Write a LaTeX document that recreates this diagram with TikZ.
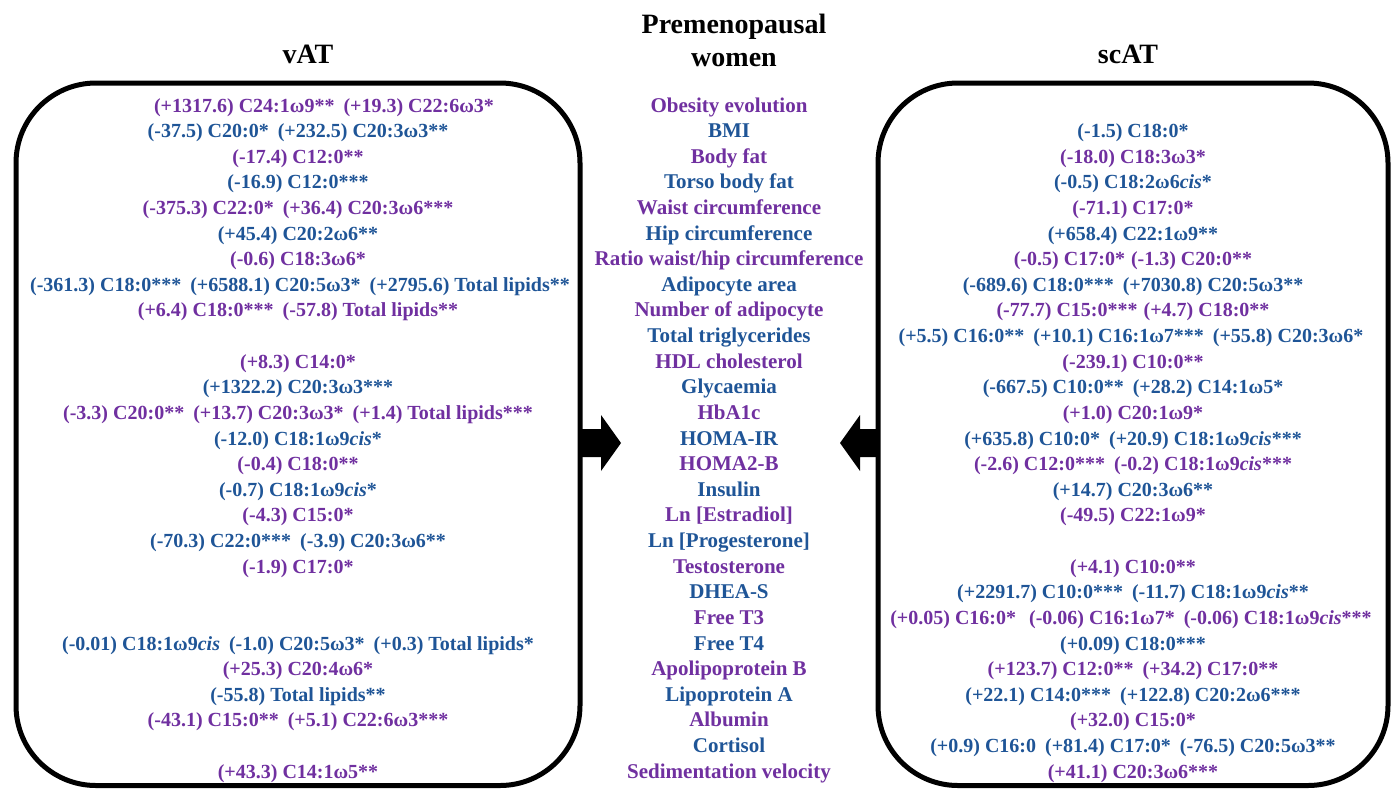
\documentclass[tikz,border=0pt]{standalone}
\usepackage{fontspec}
\setmainfont{Liberation Serif}
\definecolor{pur}{HTML}{7030A0}
\definecolor{blu}{HTML}{1F5597}
\tikzset{
  mid/.style={anchor=base, inner sep=0pt, font=\fontsize{21}{25}\selectfont\bfseries},
  lbl/.style={anchor=base, inner sep=0pt, font=\fontsize{20}{25}\selectfont\bfseries},
  head/.style={anchor=base, inner sep=0pt, font=\fontsize{28}{34}\selectfont\bfseries, text=black},
  pu/.style={text=pur}, bl/.style={text=blu},
  frame/.style={line width=5pt, rounded corners=80pt},
  blockarrow/.style={fill=black, draw=none},
}
\newcommand{\gp}{\hspace{9pt}}
\newcommand{\cs}{\textit{cis}}
\begin{document}
\begin{tikzpicture}[x=1pt, y=-1pt]
\useasboundingbox (0,0) rectangle (1392,788);
\fill[white] (0,0) rectangle (1392,788);
% headings
\node[head] (t1) at (734,33) {Premenopausal};
\node[head] (t2) at (734,66) {women};
\node[head] (hv) at (308,63) {vAT};
\node[head] (hs) at (1128,63) {scAT};
% frames
\draw[frame] (16,83) rectangle (580,785.5);
\draw[frame] (878,83) rectangle (1388,785.5);
% block arrows
\fill[blockarrow] (579,429) -- (601,429) -- (601,415) -- (621,443) -- (601,471) -- (601,457) -- (579,457) -- cycle;
\fill[blockarrow] (879,429) -- (860,429) -- (860,415) -- (840,443) -- (860,471) -- (860,457) -- (879,457) -- cycle;
% middle column
\node[mid,pu] (m1) at (729,{112+0*25.62}) {Obesity evolution};
\node[mid,bl] (m2) at (729,{112+1*25.62}) {BMI};
\node[mid,pu] (m3) at (729,{112+2*25.62}) {Body fat};
\node[mid,bl] (m4) at (729,{112+3*25.62}) {Torso body fat};
\node[mid,pu] (m5) at (729,{112+4*25.62}) {Waist circumference};
\node[mid,bl] (m6) at (729,{112+5*25.62}) {Hip circumference};
\node[mid,pu] (m7) at (729,{112+6*25.62}) {Ratio waist/hip circumference};
\node[mid,bl] (m8) at (729,{112+7*25.62}) {Adipocyte area};
\node[mid,pu] (m9) at (729,{112+8*25.62}) {Number of adipocyte};
\node[mid,bl] (m10) at (729,{112+9*25.62}) {Total triglycerides};
\node[mid,pu] (m11) at (729,{112+10*25.62}) {HDL cholesterol};
\node[mid,bl] (m12) at (729,{112+11*25.62}) {Glycaemia};
\node[mid,pu] (m13) at (729,{112+12*25.62}) {HbA1c};
\node[mid,bl] (m14) at (729,{112+13*25.62}) {HOMA-IR};
\node[mid,pu] (m15) at (729,{112+14*25.62}) {HOMA2-B};
\node[mid,bl] (m16) at (729,{112+15*25.62}) {Insulin};
\node[mid,pu] (m17) at (729,{112+16*25.62}) {Ln [Estradiol]};
\node[mid,bl] (m18) at (729,{112+17*25.62}) {Ln [Progesterone]};
\node[mid,pu] (m19) at (729,{112+18*25.62}) {Testosterone};
\node[mid,bl] (m20) at (729,{112+19*25.62}) {DHEA-S};
\node[mid,pu] (m21) at (729,{112+20*25.62}) {Free T3};
\node[mid,bl] (m22) at (729,{112+21*25.62}) {Free T4};
\node[mid,pu] (m23) at (729,{112+22*25.62}) {Apolipoprotein B};
\node[mid,bl] (m24) at (729,{112+23*25.62}) {Lipoprotein A};
\node[mid,pu] (m25) at (729,{112+24*25.62}) {Albumin};
\node[mid,bl] (m26) at (729,{112+25*25.62}) {Cortisol};
\node[mid,pu] (m27) at (729,{112+26*25.62}) {Sedimentation velocity};
% vAT column
\node[lbl,pu] (l1) at (324,{112+0*25.62}) {(+1317.6) C24:1ω9**\gp(+19.3) C22:6ω3*};
\node[lbl,bl] (l2) at (298,{112+1*25.62}) {(-37.5) C20:0*\gp(+232.5) C20:3ω3**};
\node[lbl,pu] (l3) at (298,{112+2*25.62}) {(-17.4) C12:0**};
\node[lbl,bl] (l4) at (298,{112+3*25.62}) {(-16.9) C12:0***};
\node[lbl,pu] (l5) at (298,{112+4*25.62}) {(-375.3) C22:0*\gp(+36.4) C20:3ω6***};
\node[lbl,bl] (l6) at (298,{112+5*25.62}) {(+45.4) C20:2ω6**};
\node[lbl,pu] (l7) at (298,{112+6*25.62}) {(-0.6) C18:3ω6*};
\node[lbl,bl] (l8) at (300,{112+7*25.62}) {(-361.3) C18:0***\gp(+6588.1) C20:5ω3*\gp(+2795.6) Total lipids**};
\node[lbl,pu] (l9) at (298,{112+8*25.62}) {(+6.4) C18:0***\gp(-57.8) Total lipids**};
\node[lbl,pu] (l11) at (298,{112+10*25.62}) {(+8.3) C14:0*};
\node[lbl,bl] (l12) at (298,{112+11*25.62}) {(+1322.2) C20:3ω3***};
\node[lbl,pu] (l13) at (298,{112+12*25.62}) {(-3.3) C20:0**\gp(+13.7) C20:3ω3*\gp(+1.4) Total lipids***};
\node[lbl,bl] (l14) at (298,{112+13*25.62}) {(-12.0) C18:1ω9\cs*};
\node[lbl,pu] (l15) at (298,{112+14*25.62}) {(-0.4) C18:0**};
\node[lbl,bl] (l16) at (298,{112+15*25.62}) {(-0.7) C18:1ω9\cs*};
\node[lbl,pu] (l17) at (298,{112+16*25.62}) {(-4.3) C15:0*};
\node[lbl,bl] (l18) at (298,{112+17*25.62}) {(-70.3) C22:0***\gp(-3.9) C20:3ω6**};
\node[lbl,pu] (l19) at (298,{112+18*25.62}) {(-1.9) C17:0*};
\node[lbl,bl] (l22) at (298,{112+21*25.62}) {(-0.01) C18:1ω9\cs\gp(-1.0) C20:5ω3*\gp(+0.3) Total lipids*};
\node[lbl,pu] (l23) at (298,{112+22*25.62}) {(+25.3) C20:4ω6*};
\node[lbl,bl] (l24) at (298,{112+23*25.62}) {(-55.8) Total lipids**};
\node[lbl,pu] (l25) at (298,{112+24*25.62}) {(-43.1) C15:0**\gp(+5.1) C22:6ω3***};
\node[lbl,pu] (l27) at (298,{112+26*25.62}) {(+43.3) C14:1ω5**};
% scAT column
\node[lbl,bl] (r2) at (1133,{112+1*25.62}) {(-1.5) C18:0*};
\node[lbl,pu] (r3) at (1133,{112+2*25.62}) {(-18.0) C18:3ω3*};
\node[lbl,bl] (r4) at (1133,{112+3*25.62}) {(-0.5) C18:2ω6\cs*};
\node[lbl,pu] (r5) at (1133,{112+4*25.62}) {(-71.1) C17:0*};
\node[lbl,bl] (r6) at (1133,{112+5*25.62}) {(+658.4) C22:1ω9**};
\node[lbl,pu] (r7) at (1133,{112+6*25.62}) {(-0.5) C17:0*\hspace{6pt}(-1.3) C20:0**};
\node[lbl,bl] (r8) at (1133,{112+7*25.62}) {(-689.6) C18:0***\gp(+7030.8) C20:5ω3**};
\node[lbl,pu] (r9) at (1133,{112+8*25.62}) {(-77.7) C15:0***\hspace{6pt}(+4.7) C18:0**};
\node[lbl,bl] (r10) at (1131,{112+9*25.62}) {(+5.5) C16:0**\gp(+10.1) C16:1ω7***\gp(+55.8) C20:3ω6*};
\node[lbl,pu] (r11) at (1133,{112+10*25.62}) {(-239.1) C10:0**};
\node[lbl,bl] (r12) at (1133,{112+11*25.62}) {(-667.5) C10:0**\gp(+28.2) C14:1ω5*};
\node[lbl,pu] (r13) at (1133,{112+12*25.62}) {(+1.0) C20:1ω9*};
\node[lbl,bl] (r14) at (1133,{112+13*25.62}) {(+635.8) C10:0*\gp(+20.9) C18:1ω9\cs***};
\node[lbl,pu] (r15) at (1133,{112+14*25.62}) {(-2.6) C12:0***\gp(-0.2) C18:1ω9\cs***};
\node[lbl,bl] (r16) at (1133,{112+15*25.62}) {(+14.7) C20:3ω6**};
\node[lbl,pu] (r17) at (1133,{112+16*25.62}) {(-49.5) C22:1ω9*};
\node[lbl,pu] (r19) at (1133,{112+18*25.62}) {(+4.1) C10:0**};
\node[lbl,bl] (r20) at (1133,{112+19*25.62}) {(+2291.7) C10:0***\gp(-11.7) C18:1ω9\cs**};
\node[lbl,pu] (r21) at (1131,{112+20*25.62}) {(+0.05) C16:0*\gp\hspace{4pt}(-0.06) C16:1ω7*\gp(-0.06) C18:1ω9\cs***};
\node[lbl,bl] (r22) at (1133,{112+21*25.62}) {(+0.09) C18:0***};
\node[lbl,pu] (r23) at (1133,{112+22*25.62}) {(+123.7) C12:0**\gp(+34.2) C17:0**};
\node[lbl,bl] (r24) at (1133,{112+23*25.62}) {(+22.1) C14:0***\gp(+122.8) C20:2ω6***};
\node[lbl,pu] (r25) at (1133,{112+24*25.62}) {(+32.0) C15:0*};
\node[lbl,bl] (r26) at (1133,{112+25*25.62}) {(+0.9) C16:0\gp(+81.4) C17:0*\gp(-76.5) C20:5ω3**};
\node[lbl,pu] (r27) at (1133,{112+26*25.62}) {(+41.1) C20:3ω6***};
\end{tikzpicture}
\end{document}
